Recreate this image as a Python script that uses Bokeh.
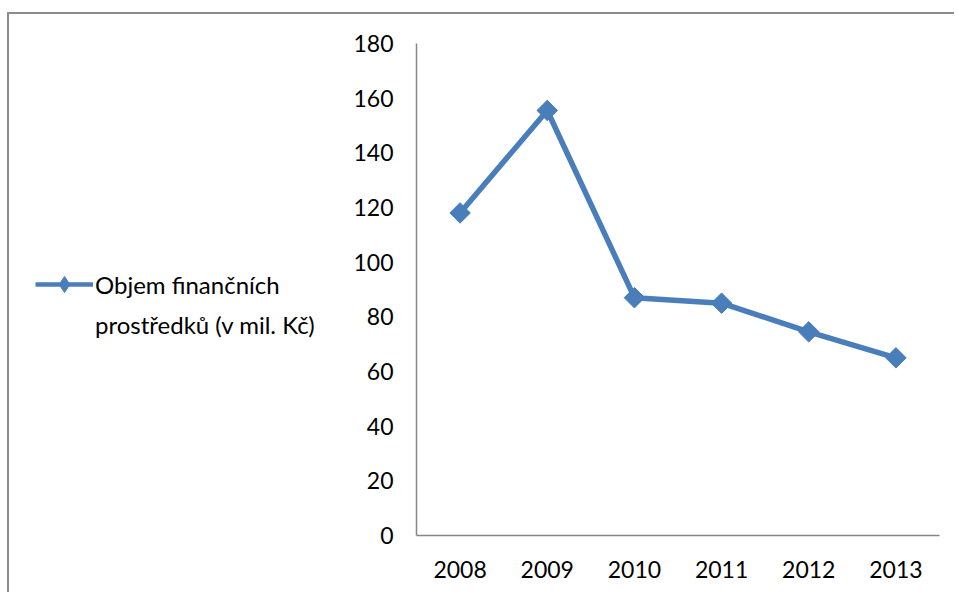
import math
from bokeh.plotting import figure
from bokeh.layouts import row
from bokeh.models import Legend, LegendItem, FactorRange, Range1d, FixedTicker
from bokeh.embed import file_html
from bokeh.resources import INLINE

years = ["2008", "2009", "2010", "2011", "2012", "2013"]
values = [118, 155.5, 87, 85, 74.5, 65]
y_ticks = [0, 20, 40, 60, 80, 100, 120, 140, 160, 180]
legend_lines = ["Objem finančních", "prostředků (v mil. Kč)"]

FONT = "Lato"
BLUE = "#4A7EBB"
GRAY = "#868686"
H = 578

# ---- main chart -------------------------------------------------------
p = figure(width=605, height=H, x_range=FactorRange(*years), y_range=Range1d(0, 180),
           output_backend="svg", toolbar_location=None,
           min_border_left=67, min_border_right=15, min_border_top=29, min_border_bottom=57)
p.outline_line_color = None
p.xgrid.visible = False
p.ygrid.visible = False
p.background_fill_color = "white"
p.border_fill_color = "white"

p.line(x=years, y=values, line_color=BLUE, line_width=5.5)
p.scatter(x=years, y=values, marker="square", size=14.5, angle=math.pi / 4,
          fill_color=BLUE, line_color=BLUE)

for ax in (p.xaxis[0], p.yaxis[0]):
    ax.axis_line_color = GRAY
    ax.axis_line_width = 1.5
    ax.major_tick_line_color = None
    ax.minor_tick_line_color = None
    ax.major_label_text_font = FONT
    ax.major_label_text_font_size = "23px"
    ax.major_label_text_color = "black"

p.yaxis[0].ticker = FixedTicker(ticks=y_ticks)
p.yaxis[0].major_label_standoff = 17
p.xaxis[0].major_label_standoff = 19

# ---- legend area (left of the chart) -----------------------------------
# the series is repeated here only to feed the legend; its ranges keep it out of view
lg = figure(width=340, height=H, x_range=FactorRange(*years, range_padding=0),
            y_range=Range1d(1000, 1001),
            x_axis_type=None, y_axis_type=None, output_backend="svg", toolbar_location=None,
            min_border=0)
lg.outline_line_color = None
lg.xgrid.visible = False
lg.ygrid.visible = False
lg.border_fill_color = "white"
lg_line = lg.line(x=years, y=values, line_color=BLUE, line_width=4.5)
lg_mark = lg.scatter(x=years, y=values, marker="diamond", size=17,
                     fill_color=BLUE, line_color=BLUE)
lg_blank = lg.line(x=years, y=values, line_alpha=0)

legend = Legend(items=[LegendItem(label=legend_lines[0], renderers=[lg_line, lg_mark]),
                       LegendItem(label=legend_lines[1], renderers=[lg_blank])],
                location=(26, 191), padding=0, margin=0, spacing=-5,
                border_line_color=None, background_fill_alpha=0,
                glyph_width=58, glyph_height=40, label_standoff=2,
                label_text_font=FONT, label_text_font_size="24px", label_text_color="black")
lg.add_layout(legend, "center")

layout = row(lg, p, spacing=0)
layout.styles = {"margin-left": "7px", "margin-top": "12px",
                 "border-left": "2px solid #8c8c8c", "border-top": "2px solid #8c8c8c"}

open("out.html", "w").write(file_html(layout, INLINE))
